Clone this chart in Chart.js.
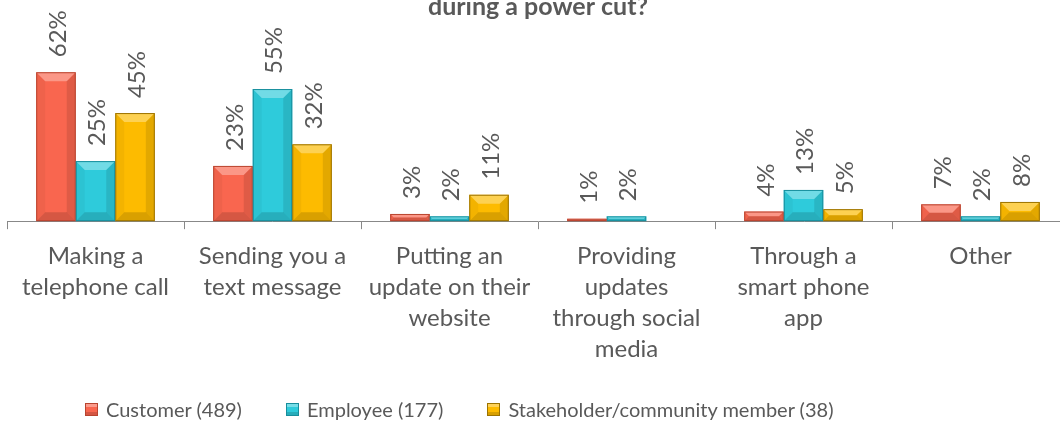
<!DOCTYPE html>
<html>
<head>
<meta charset="utf-8">
<script src="https://cdn.jsdelivr.net/npm/chart.js@4"></script>
<style>
  body { margin: 0; background: #fff; overflow: hidden; width: 1060px; height: 424px; position: relative; }
  #wrap { position: absolute; left: 0; top: -8px; width: 1080px; height: 440px; }
  #legend { position: absolute; left: 85px; top: 397px; display: flex; gap: 44px;
            font-family: Lato, sans-serif; font-size: 20px; color: #595959; white-space: nowrap; }
  .item { display: flex; align-items: center; }
  .box { width: 13px; height: 13px; margin-right: 8px; box-sizing: border-box; border: 1px solid;
         box-shadow: inset 0 3px 0 rgba(255,255,255,0.35), inset 0 -3px 0 rgba(0,0,0,0.15); }
</style>
</head>
<body>
<div id="wrap"><canvas id="chart"></canvas></div>
<div id="legend"></div>
<script>
// Data
const categories = [
  ['Making a', 'telephone call'],
  ['Sending you a', 'text message'],
  ['Putting an', 'update on their', 'website'],
  ['Providing', 'updates', 'through social', 'media'],
  ['Through a', 'smart phone', 'app'],
  ['Other']
];
const seriesNames = ['Customer (489)', 'Employee (177)', 'Stakeholder/community member (38)'];
const customerValues = [62, 23, 3, 1, 4, 7];
const employeeValues = [25, 55, 2, 2, 13, 2];
const stakeholderValues = [45, 32, 11, 0, 5, 8];

const fills = ['#F9664F', '#2ECBDB', '#FDBB00'];
const edges = ['#B8442F', '#178E9C', '#9C7300'];
const textColor = '#595959';

// Bevel look on each bar (light top, darker bottom/sides)
const bevelPlugin = {
  id: 'bevel',
  afterDatasetsDraw(chart) {
    const ctx = chart.ctx;
    chart.data.datasets.forEach((ds, i) => {
      chart.getDatasetMeta(i).data.forEach(bar => {
        const l = bar.x - bar.width / 2, r = bar.x + bar.width / 2;
        const t = bar.y, b = bar.base;
        const h = b - t;
        if (h <= 0.5) return;
        const s = Math.min(9, bar.width / 2, h / 2);
        const poly = (pts, color) => {
          ctx.beginPath();
          ctx.moveTo(pts[0][0], pts[0][1]);
          pts.slice(1).forEach(p => ctx.lineTo(p[0], p[1]));
          ctx.closePath();
          ctx.fillStyle = color;
          ctx.fill();
        };
        ctx.save();
        poly([[l, t], [r, t], [r - s, t + s], [l + s, t + s]], 'rgba(255,255,255,0.32)');
        poly([[l, b], [r, b], [r - s, b - s], [l + s, b - s]], 'rgba(0,0,0,0.14)');
        poly([[l, t], [l + s, t + s], [l + s, b - s], [l, b]], 'rgba(0,0,0,0.04)');
        poly([[r, t], [r - s, t + s], [r - s, b - s], [r, b]], 'rgba(0,0,0,0.10)');
        ctx.strokeStyle = edges[i];
        ctx.lineWidth = 1;
        ctx.strokeRect(l + 0.5, t + 0.5, bar.width - 1, h - 1);
        ctx.restore();
      });
    });
  }
};

// Rotated value labels above the bars
const valueLabels = {
  id: 'valueLabels',
  afterDatasetsDraw(chart) {
    const ctx = chart.ctx;
    chart.data.datasets.forEach((ds, i) => {
      chart.getDatasetMeta(i).data.forEach((bar, j) => {
        const v = ds.data[j];
        if (!v) return;
        ctx.save();
        ctx.translate(bar.x + 2, bar.y - 15);
        ctx.rotate(-Math.PI / 2);
        ctx.font = '24px Lato, sans-serif';
        ctx.fillStyle = textColor;
        ctx.textAlign = 'left';
        ctx.textBaseline = 'middle';
        ctx.fillText(v + '%', 0, 0);
        ctx.restore();
      });
    });
  }
};

const allValues = [customerValues, employeeValues, stakeholderValues];

new Chart(document.getElementById('chart'), {
  type: 'bar',
  data: {
    labels: categories,
    datasets: allValues.map((vals, i) => ({
      label: seriesNames[i],
      data: vals,
      backgroundColor: fills[i],
      borderWidth: 0,
      categoryPercentage: 0.67,
      barPercentage: 1.0
    }))
  },
  options: {
    responsive: true,
    maintainAspectRatio: false,
    animation: false,
    layout: { padding: { left: 7, right: 11, top: 0, bottom: 55 } },
    plugins: {
      legend: { display: false },
      tooltip: { enabled: false },
      title: {
        display: true,
        text: 'during a power cut?',
        color: textColor,
        font: { family: 'Lato, sans-serif', size: 25, weight: 'bold', lineHeight: 1.2 },
        padding: { top: 0, bottom: 7 }
      }
    },
    scales: {
      x: {
        grid: { display: true, drawOnChartArea: false, drawTicks: true, tickLength: 8, color: '#888888', offset: true },
        border: { display: true, color: '#888888', width: 1 },
        ticks: {
          autoSkip: false, maxRotation: 0, minRotation: 0, padding: 12,
          color: textColor,
          font: { family: 'Lato, sans-serif', size: 24, lineHeight: 1.29 }
        }
      },
      y: { display: false, min: 0, max: 80 }
    }
  },
  plugins: [bevelPlugin, valueLabels]
});

// Legend
const legend = document.getElementById('legend');
seriesNames.forEach((name, i) => {
  const item = document.createElement('div');
  item.className = 'item';
  item.innerHTML = '<span class="box" style="background:' + fills[i] + ';border-color:' + edges[i] + '"></span>' + name;
  legend.appendChild(item);
});
</script>
</body>
</html>
